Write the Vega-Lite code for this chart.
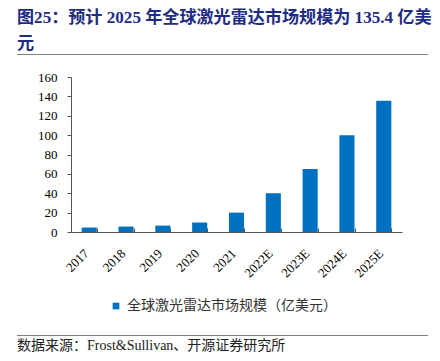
{
  "$schema": "https://vega.github.io/schema/vega-lite/v6.json",
  "background": "white",
  "padding": {"left": 17, "right": 12, "top": 8, "bottom": 0},
  "spacing": 16,
  "resolve": {
    "scale": {"x": "independent", "y": "independent", "color": "independent"},
    "legend": {"color": "independent"}
  },
  "vconcat": [
    {
      "width": 411,
      "height": 1,
      "title": {
        "text": ["图25：预计 2025 年全球激光雷达市场规模为 135.4 亿美", "元"],
        "anchor": "start",
        "font": "Liberation Serif, Noto Sans CJK SC",
        "fontSize": 17.1,
        "fontWeight": "bold",
        "color": "#1E2C83",
        "lineHeight": 26,
        "offset": 2
      },
      "data": {"values": [{"a": 0, "b": 1}]},
      "mark": {"type": "rect", "color": "#808080"},
      "encoding": {
        "x": {"field": "a", "type": "quantitative", "axis": null, "scale": {"domain": [0, 1], "nice": false, "zero": false}},
        "x2": {"field": "b"}
      }
    },
    {
      "spacing": 10,
      "hconcat": [
        {
          "width": 10,
          "height": 155,
          "data": {"values": []},
          "mark": {"type": "rect", "opacity": 0},
          "encoding": {}
        },
        {
          "width": 331,
          "height": 155,
          "data": {
            "values": [
              {"year": "2017", "value": 4.6},
              {"year": "2018", "value": 5.6},
              {"year": "2019", "value": 6.6},
              {"year": "2020", "value": 9.8},
              {"year": "2021", "value": 20},
              {"year": "2022E", "value": 40},
              {"year": "2023E", "value": 65},
              {"year": "2024E", "value": 100},
              {"year": "2025E", "value": 135.4}
            ]
          },
          "mark": {"type": "bar", "color": "#0070C0"},
          "encoding": {
            "x": {
              "field": "year", "type": "nominal", "sort": null,
              "scale": {"paddingInner": 0.59, "paddingOuter": 0.29},
              "axis": {
                "title": null, "labelAngle": -45, "labelAlign": "right", "labelBaseline": "middle",
                "labelFont": "Liberation Serif", "labelFontSize": 13,
                "labelColor": "#000", "domainColor": "#555", "tickColor": "#555",
                "tickBand": "extent", "tickSize": -4, "labelPadding": 23, "labelOffset": -3
              }
            },
            "y": {
              "field": "value", "type": "quantitative",
              "scale": {"domain": [0, 160], "nice": false},
              "axis": {
                "title": null, "values": [0, 20, 40, 60, 80, 100, 120, 140, 160], "grid": false,
                "labelFont": "Liberation Serif", "labelFontSize": 13, "labelColor": "#000",
                "domainColor": "#555", "tickColor": "#555", "tickSize": 4, "labelPadding": 10
              }
            }
          }
        }
      ]
    },
    {
      "width": 411,
      "height": 1,
      "title": {
        "text": "数据来源：Frost&Sullivan、开源证券研究所",
        "orient": "bottom", "anchor": "start",
        "font": "Liberation Serif, Noto Sans CJK SC", "fontSize": 14, "fontWeight": "normal",
        "color": "#222", "offset": 3
      },
      "layer": [
        {
          "data": {"values": [{"a": 0, "b": 1}]},
          "mark": {"type": "rect", "color": "#808080"},
          "encoding": {
            "x": {"field": "a", "type": "quantitative", "axis": null, "scale": {"domain": [0, 1], "nice": false, "zero": false}},
            "x2": {"field": "b"}
          }
        },
        {
          "data": {"values": [{"series": "全球激光雷达市场规模（亿美元）"}]},
          "mark": {"type": "square", "size": 0, "filled": true, "opacity": 1},
          "encoding": {
            "color": {
              "field": "series", "type": "nominal",
              "scale": {"range": ["#0070C0"]},
              "legend": {
                "title": null, "orient": "top", "direction": "horizontal",
                "symbolType": "square", "symbolSize": 45, "symbolOpacity": 1, "labelFont": "Noto Sans CJK SC",
                "labelFontSize": 14, "labelColor": "#333", "labelLimit": 400, "offset": 19, "padding": 3
              }
            }
          }
        }
      ]
    }
  ],
  "config": {
    "view": {"stroke": null},
    "legend": {"layout": {"top": {"anchor": "middle"}}}
  }
}
